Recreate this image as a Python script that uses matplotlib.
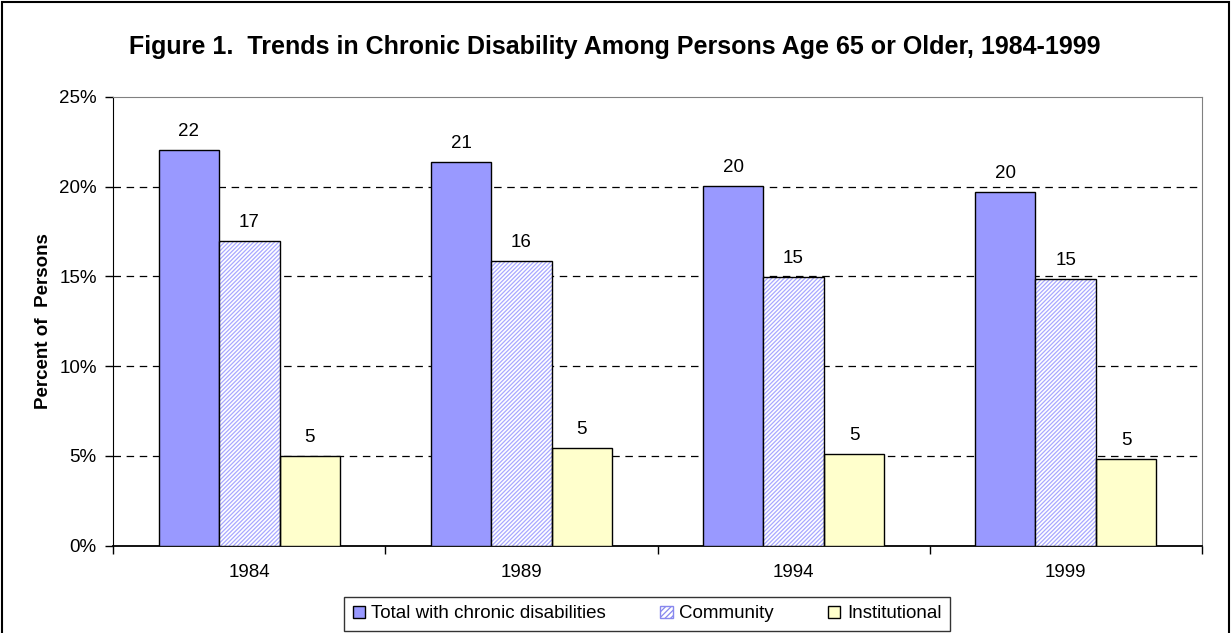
import numpy as np
import matplotlib.pyplot as plt
from matplotlib.patches import Rectangle, Patch
from matplotlib.ticker import FuncFormatter

plt.rcParams['font.family'] = ['Liberation Sans', 'DejaVu Sans']

years = ['1984', '1989', '1994', '1999']
total = [22.03, 21.38, 20.03, 19.70]
community = [16.98, 15.84, 14.96, 14.85]
institutional = [5.01, 5.46, 5.09, 4.83]

blue = '#9999FF'
yellow = '#FFFFCC'
fs = 13.5

fig = plt.figure(figsize=(12.31, 6.33), dpi=100)
ax = fig.add_axes([113.3 / 1231, 1 - 545.7 / 633, (1201.7 - 113.3) / 1231, (545.7 - 96.7) / 633])

x = np.arange(len(years))
w = 0.222

b1 = ax.bar(x - w, total, w, color=blue, edgecolor='black', linewidth=1, zorder=3)
# hatched community bars: draw hatch in blue, then outline in black
plt.rcParams['hatch.linewidth'] = 0.9
ax.bar(x, community, w, color='white', edgecolor='#A8A8FF', hatch='////////', linewidth=0, zorder=3)
b2 = ax.bar(x, community, w, fill=False, edgecolor='black', linewidth=1, zorder=4)
b3 = ax.bar(x + w, institutional, w, color=yellow, edgecolor='black', linewidth=1, zorder=3)

for bars, vals in ((b1, total), (b2, community), (b3, institutional)):
    for r, v in zip(bars, vals):
        ax.text(r.get_x() + r.get_width() / 2, v + 0.55, '%.0f' % v,
                ha='center', va='bottom', fontsize=fs)

ax.set_xlim(-0.5, len(years) - 0.5)
ax.set_ylim(0, 25)
ax.set_yticks([0, 5, 10, 15, 20, 25])
ax.yaxis.set_major_formatter(FuncFormatter(lambda v, p: '%d%%' % v))
ax.set_xticks(np.arange(len(years) + 1) - 0.5)
ax.set_xticklabels([])
ax.set_xticks(x, minor=True)
ax.set_xticklabels(years, minor=True, fontsize=fs)
ax.tick_params(axis='x', which='minor', length=0, pad=13)
ax.tick_params(axis='x', which='major', length=6, direction='out', width=1)
ax.tick_params(axis='y', length=6, direction='out', width=1, labelsize=fs, pad=6)

for v in [5, 10, 15, 20]:
    ax.axhline(v, color='black', linestyle=(0, (6, 4.5)), linewidth=0.9, zorder=1)

ax.spines['left'].set_color('black')
ax.spines['bottom'].set_color('black')
ax.spines['bottom'].set_linewidth(1.3)
ax.spines['top'].set_color('#808080')
ax.spines['right'].set_color('#808080')

ax.set_ylabel('Percent of  Persons', fontsize=fs, fontweight='bold', labelpad=5)

fig.text(615 / 1231, 1 - 47 / 633, 'Figure 1.  Trends in Chronic Disability Among Persons Age 65 or Older, 1984-1999',
         ha='center', va='center', fontsize=18, fontweight='bold')

handles = [Patch(facecolor=blue, edgecolor='black'),
           Patch(facecolor='white', edgecolor='#8888EE', hatch='//////'),
           Patch(facecolor=yellow, edgecolor='black')]
leg = fig.legend(handles, ['Total with chronic disabilities', 'Community', 'Institutional'],
                 loc='center', bbox_to_anchor=(647 / 1231, 1 - 614 / 633), ncol=3,
                 fontsize=fs, frameon=True, fancybox=False, edgecolor='black',
                 handlelength=0.65, handleheight=0.65, handletextpad=0.35, columnspacing=2.9,
                 borderpad=0.45)
leg.get_frame().set_linewidth(1)

fig.patches.append(Rectangle((2.5 / 1231, -0.02), 1 - 5 / 1231, 1.02 - 2.5 / 633, transform=fig.transFigure,
                             fill=False, edgecolor='black', linewidth=1.5))

fig.savefig('out.png', dpi=100)
